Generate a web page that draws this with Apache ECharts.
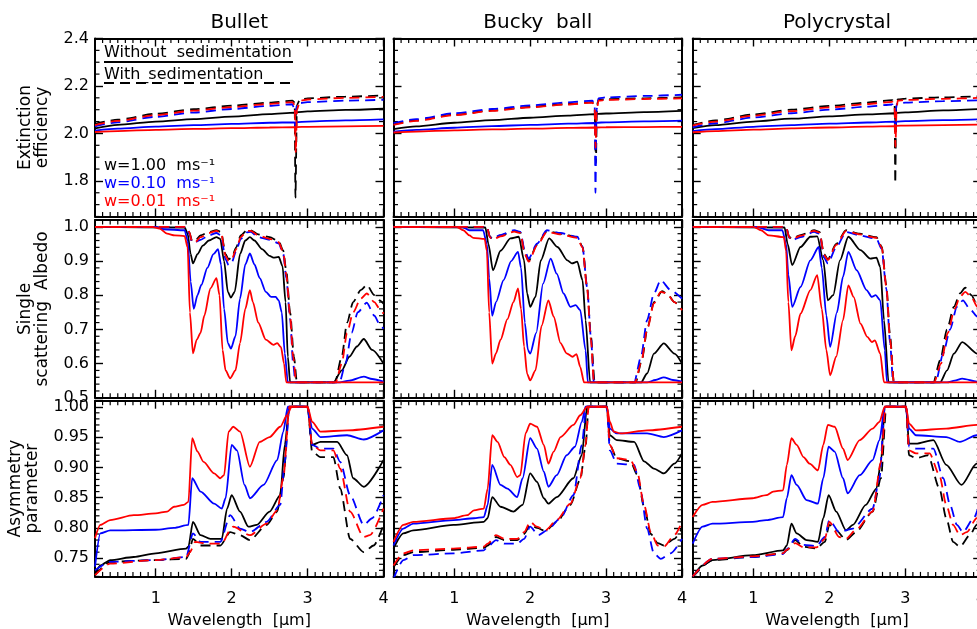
<!DOCTYPE html>
<html><head><meta charset="utf-8">
<script src="https://cdn.jsdelivr.net/npm/echarts@6/dist/echarts.min.js"></script>
<style>html,body{margin:0;padding:0;background:#fff}#c{width:977px;height:629px}</style>
</head><body><div id="c"></div>
<script>
// ---------- text ----------
const panelTitles = ['Bullet', 'Bucky  ball', 'Polycrystal'];
const rowNames = ['Extinction\nefficiency', 'Single\nscattering  Albedo', 'Asymmetry\nparameter'];
const xName = 'Wavelength  [\u03bcm]';
const xTickLabels = [1, 2, 3, 4];
const yTickLabels = [[1.8, 2.0, 2.2, 2.4], [0.5, 0.6, 0.7, 0.8, 0.9, 1.0], [0.75, 0.80, 0.85, 0.90, 0.95, 1.00]];
const yDecimals = [1, 1, 2];
const legendStyleTexts = ['Without  sedimentation', 'With_sedimentation'];
const legendSpeedTexts = ['w=1.00  ms\u207b\u00b9', 'w=0.10  ms\u207b\u00b9', 'w=0.01  ms\u207b\u00b9'];
const xRange = [0.2, 4.0];
const yRanges = [[1.65, 2.4], [0.5, 1.02], [0.72, 1.01]];

// ---------- Extinction efficiency ----------
const extBulletK  = [[0.2,2.021],[0.5,2.036],[1.0,2.05],[1.5,2.06],[2.0,2.071],[2.5,2.081],[2.83,2.088],[2.84,2.06],[2.85,2.089],[3.0,2.093],[3.5,2.099],[4.0,2.104]];
const extBulletKd = [[0.2,2.04],[0.5,2.058],[1.0,2.083],[1.5,2.102],[2.0,2.117],[2.5,2.13],[2.8,2.138],[2.83,2.13],[2.84,1.73],[2.86,2.12],[2.9,2.143],[3.0,2.148],[3.5,2.155],[4.0,2.16]];
const extBulletB  = [[0.2,2.012],[0.5,2.02],[1.0,2.029],[1.5,2.035],[2.0,2.04],[2.5,2.045],[2.83,2.047],[2.84,2.022],[2.85,2.048],[3.0,2.05],[3.5,2.055],[4.0,2.059]];
const extBulletBd = [[0.2,2.03],[0.5,2.047],[1.0,2.07],[1.5,2.088],[2.0,2.103],[2.5,2.116],[2.8,2.123],[2.84,2.08],[2.86,2.12],[2.9,2.128],[3.0,2.132],[3.5,2.138],[4.0,2.142]];
const extBulletR  = [[0.2,2.006],[0.5,2.01],[1.0,2.015],[1.5,2.019],[2.0,2.022],[2.5,2.025],[2.83,2.026],[2.84,2.005],[2.85,2.027],[3.0,2.028],[3.5,2.03],[4.0,2.032]];
const extBulletRd = [[0.2,2.035],[0.5,2.053],[1.0,2.077],[1.5,2.096],[2.0,2.111],[2.5,2.124],[2.8,2.132],[2.83,2.12],[2.845,1.92],[2.86,2.1],[2.9,2.138],[3.0,2.143],[3.5,2.15],[4.0,2.154]];

const extBuckyK  = [[0.2,2.018],[0.5,2.03],[1.0,2.045],[1.5,2.056],[2.0,2.066],[2.5,2.075],[2.85,2.081],[2.86,2.0],[2.87,2.082],[3.0,2.084],[3.5,2.09],[4.0,2.095]];
const extBuckyKd = [[0.2,2.038],[0.5,2.055],[1.0,2.079],[1.5,2.097],[2.0,2.112],[2.5,2.124],[2.82,2.132],[2.85,2.1],[2.866,1.875],[2.88,2.12],[2.9,2.14],[3.0,2.144],[3.5,2.148],[4.0,2.152]];
const extBuckyB  = [[0.2,2.008],[0.5,2.015],[1.0,2.024],[1.5,2.031],[2.0,2.036],[2.5,2.041],[2.85,2.044],[2.86,2.02],[2.87,2.045],[3.0,2.047],[3.5,2.051],[4.0,2.054]];
const extBuckyBd = [[0.2,2.043],[0.5,2.06],[1.0,2.085],[1.5,2.103],[2.0,2.118],[2.5,2.131],[2.82,2.138],[2.85,2.12],[2.86,1.75],[2.875,2.1],[2.9,2.148],[3.0,2.152],[3.5,2.158],[4.0,2.163]];
const extBuckyR  = [[0.2,2.004],[0.5,2.008],[1.0,2.013],[1.5,2.017],[2.0,2.02],[2.5,2.023],[2.85,2.025],[2.86,2.0],[2.87,2.025],[3.0,2.026],[3.5,2.027],[4.0,2.028]];
const extBuckyRd = [[0.2,2.036],[0.5,2.053],[1.0,2.077],[1.5,2.095],[2.0,2.11],[2.5,2.122],[2.82,2.13],[2.85,2.11],[2.862,1.94],[2.875,2.09],[2.9,2.138],[3.0,2.141],[3.5,2.145],[4.0,2.148]];

const extPolyK  = [[0.2,2.022],[0.5,2.035],[1.0,2.05],[1.5,2.062],[2.0,2.072],[2.5,2.08],[2.86,2.085],[2.87,2.05],[2.88,2.086],[3.0,2.089],[3.5,2.097],[4.0,2.103]];
const extPolyKd = [[0.2,2.036],[0.5,2.055],[1.0,2.08],[1.5,2.1],[2.0,2.116],[2.5,2.13],[2.83,2.14],[2.86,2.12],[2.868,1.79],[2.88,2.11],[2.9,2.143],[3.0,2.147],[3.5,2.152],[4.0,2.157]];
const extPolyB  = [[0.2,2.01],[0.5,2.018],[1.0,2.028],[1.5,2.035],[2.0,2.041],[2.5,2.046],[2.86,2.05],[2.87,2.025],[2.88,2.05],[3.0,2.052],[3.5,2.056],[4.0,2.06]];
const extPolyBd = [[0.2,2.026],[0.5,2.043],[1.0,2.067],[1.5,2.085],[2.0,2.1],[2.5,2.113],[2.83,2.122],[2.87,2.09],[2.89,2.125],[3.0,2.13],[3.5,2.136],[4.0,2.14]];
const extPolyR  = [[0.2,2.005],[0.5,2.01],[1.0,2.016],[1.5,2.021],[2.0,2.025],[2.5,2.029],[2.86,2.031],[2.87,2.005],[2.88,2.032],[3.0,2.033],[3.5,2.035],[4.0,2.037]];
const extPolyRd = [[0.2,2.033],[0.5,2.05],[1.0,2.075],[1.5,2.094],[2.0,2.11],[2.5,2.124],[2.83,2.133],[2.86,2.11],[2.87,1.944],[2.885,2.1],[2.9,2.138],[3.0,2.141],[3.5,2.146],[4.0,2.15]];

// ---------- Single scattering albedo ----------
const albBulletK  = [[0.2,1.0],[1.38,0.998],[1.42,0.98],[1.46,0.92],[1.49,0.893],[1.55,0.92],[1.62,0.945],[1.7,0.96],[1.8,0.97],[1.85,0.965],[1.9,0.9],[1.95,0.81],[1.99,0.793],[2.04,0.81],[2.11,0.92],[2.18,0.96],[2.24,0.97],[2.3,0.96],[2.4,0.935],[2.5,0.915],[2.55,0.91],[2.62,0.912],[2.67,0.885],[2.71,0.78],[2.74,0.62],[2.77,0.545],[3.34,0.545],[3.45,0.58],[3.55,0.62],[3.65,0.65],[3.74,0.672],[3.85,0.64],[4.0,0.6]];
const albBulletKd = [[0.2,1.0],[1.4,1.0],[1.44,0.985],[1.48,0.958],[1.52,0.96],[1.59,0.975],[1.7,0.985],[1.8,0.99],[1.86,0.985],[1.92,0.92],[1.96,0.905],[2.0,0.91],[2.06,0.94],[2.12,0.975],[2.2,0.99],[2.25,0.99],[2.35,0.978],[2.5,0.97],[2.62,0.958],[2.68,0.93],[2.72,0.87],[2.77,0.75],[2.82,0.62],[2.86,0.545],[3.36,0.545],[3.45,0.62],[3.52,0.72],[3.6,0.78],[3.7,0.815],[3.78,0.83],[3.88,0.8],[3.95,0.785],[4.0,0.775]];
const albBulletB  = [[0.2,1.0],[1.0,1.0],[1.1,0.993],[1.38,0.99],[1.42,0.96],[1.46,0.84],[1.5,0.76],[1.55,0.8],[1.6,0.83],[1.68,0.88],[1.76,0.92],[1.82,0.935],[1.86,0.89],[1.9,0.76],[1.95,0.66],[1.99,0.644],[2.05,0.68],[2.11,0.79],[2.18,0.89],[2.24,0.922],[2.3,0.89],[2.37,0.85],[2.45,0.81],[2.52,0.795],[2.58,0.795],[2.62,0.785],[2.66,0.75],[2.7,0.63],[2.74,0.545],[3.4,0.545],[3.55,0.55],[3.74,0.562],[3.85,0.555],[4.0,0.547]];
const albBulletBd = [[0.2,1.0],[1.4,1.0],[1.44,0.98],[1.48,0.955],[1.52,0.955],[1.59,0.962],[1.7,0.975],[1.8,0.982],[1.86,0.975],[1.92,0.905],[1.96,0.888],[2.0,0.895],[2.06,0.93],[2.12,0.965],[2.2,0.984],[2.25,0.985],[2.35,0.97],[2.5,0.962],[2.62,0.952],[2.68,0.92],[2.72,0.85],[2.77,0.73],[2.81,0.6],[2.84,0.545],[3.42,0.545],[3.5,0.6],[3.58,0.69],[3.66,0.75],[3.78,0.778],[3.88,0.74],[3.95,0.715],[4.0,0.702]];
const albBulletR  = [[0.2,1.0],[0.95,1.0],[1.05,0.995],[1.15,0.98],[1.25,0.975],[1.38,0.973],[1.42,0.94],[1.45,0.75],[1.49,0.63],[1.54,0.67],[1.59,0.69],[1.64,0.74],[1.72,0.82],[1.8,0.85],[1.84,0.8],[1.88,0.64],[1.92,0.58],[1.98,0.557],[2.05,0.58],[2.11,0.66],[2.18,0.76],[2.24,0.815],[2.28,0.78],[2.35,0.72],[2.45,0.67],[2.55,0.655],[2.6,0.66],[2.65,0.648],[2.69,0.6],[2.72,0.545],[4.0,0.545]];
const albBulletRd = [[0.2,1.0],[1.4,1.0],[1.44,0.985],[1.48,0.955],[1.52,0.955],[1.59,0.97],[1.7,0.982],[1.8,0.988],[1.86,0.983],[1.92,0.915],[1.96,0.9],[2.0,0.905],[2.06,0.935],[2.12,0.97],[2.2,0.988],[2.25,0.988],[2.35,0.975],[2.5,0.965],[2.62,0.955],[2.68,0.925],[2.72,0.86],[2.77,0.74],[2.81,0.62],[2.85,0.545],[3.37,0.545],[3.45,0.6],[3.52,0.69],[3.6,0.75],[3.7,0.79],[3.78,0.805],[3.88,0.78],[3.95,0.76],[4.0,0.746]];

const albBuckyK  = [[0.2,1.0],[1.41,0.998],[1.45,0.95],[1.51,0.873],[1.61,0.93],[1.74,0.966],[1.85,0.971],[1.92,0.902],[1.96,0.805],[2.0,0.766],[2.07,0.795],[2.14,0.902],[2.25,0.966],[2.36,0.941],[2.49,0.902],[2.55,0.893],[2.62,0.898],[2.69,0.844],[2.73,0.727],[2.79,0.545],[3.46,0.545],[3.54,0.571],[3.63,0.629],[3.76,0.659],[3.9,0.629],[4.0,0.6]];
const albBuckyKd = [[0.2,1.0],[1.43,1.0],[1.47,0.972],[1.5,0.965],[1.61,0.975],[1.79,0.988],[1.87,0.984],[1.93,0.922],[1.98,0.9],[2.09,0.948],[2.22,0.987],[2.4,0.98],[2.62,0.97],[2.69,0.942],[2.75,0.825],[2.8,0.68],[2.85,0.545],[3.39,0.545],[3.47,0.61],[3.55,0.71],[3.63,0.78],[3.74,0.812],[3.82,0.8],[3.9,0.78],[4.0,0.76]];
const albBuckyB  = [[0.2,1.0],[1.1,1.0],[1.2,0.99],[1.38,0.99],[1.43,0.95],[1.46,0.85],[1.5,0.74],[1.55,0.78],[1.65,0.844],[1.75,0.9],[1.84,0.927],[1.88,0.88],[1.93,0.72],[1.97,0.64],[2.0,0.629],[2.08,0.69],[2.17,0.834],[2.27,0.907],[2.35,0.863],[2.44,0.805],[2.53,0.766],[2.6,0.771],[2.66,0.756],[2.73,0.639],[2.76,0.545],[3.54,0.545],[3.65,0.552],[3.76,0.56],[3.88,0.552],[4.0,0.547]];
const albBuckyBd = [[0.2,1.0],[1.43,1.0],[1.47,0.97],[1.5,0.966],[1.61,0.976],[1.79,0.99],[1.87,0.985],[1.93,0.93],[1.98,0.907],[2.09,0.951],[2.22,0.99],[2.4,0.982],[2.62,0.971],[2.69,0.941],[2.75,0.824],[2.8,0.678],[2.84,0.545],[3.37,0.545],[3.46,0.62],[3.54,0.727],[3.63,0.805],[3.72,0.844],[3.85,0.815],[4.0,0.79]];
const albBuckyR  = [[0.2,1.0],[1.03,1.0],[1.12,0.99],[1.2,0.975],[1.25,0.968],[1.4,0.965],[1.43,0.93],[1.46,0.75],[1.5,0.6],[1.55,0.63],[1.61,0.67],[1.7,0.73],[1.78,0.78],[1.84,0.82],[1.88,0.76],[1.92,0.65],[1.96,0.57],[2.0,0.551],[2.07,0.58],[2.15,0.71],[2.24,0.785],[2.31,0.737],[2.4,0.66],[2.48,0.63],[2.56,0.62],[2.61,0.628],[2.66,0.59],[2.71,0.545],[4.0,0.545]];
const albBuckyRd = [[0.2,1.0],[1.43,1.0],[1.47,0.97],[1.5,0.962],[1.61,0.972],[1.79,0.986],[1.87,0.982],[1.93,0.92],[1.98,0.898],[2.09,0.945],[2.22,0.985],[2.4,0.978],[2.62,0.968],[2.69,0.94],[2.75,0.82],[2.8,0.67],[2.84,0.545],[3.38,0.545],[3.46,0.6],[3.54,0.698],[3.63,0.776],[3.72,0.81],[3.8,0.805],[3.9,0.78],[4.0,0.756]];

const albPolyK  = [[0.2,1.0],[1.41,0.998],[1.45,0.95],[1.51,0.888],[1.62,0.941],[1.75,0.971],[1.84,0.972],[1.92,0.902],[1.98,0.785],[2.05,0.8],[2.14,0.902],[2.25,0.971],[2.41,0.932],[2.54,0.907],[2.62,0.91],[2.67,0.883],[2.72,0.727],[2.78,0.545],[3.46,0.545],[3.55,0.58],[3.64,0.629],[3.75,0.663],[3.95,0.629],[4.0,0.615]];
const albPolyKd = [[0.2,1.0],[1.43,1.0],[1.47,0.972],[1.5,0.965],[1.62,0.976],[1.8,0.99],[1.87,0.985],[1.93,0.92],[1.98,0.905],[2.09,0.95],[2.22,0.99],[2.4,0.98],[2.62,0.97],[2.69,0.942],[2.75,0.83],[2.8,0.68],[2.85,0.545],[3.37,0.545],[3.46,0.61],[3.55,0.7],[3.64,0.766],[3.72,0.805],[3.79,0.822],[3.87,0.8],[3.95,0.77],[4.0,0.75]];
const albPolyB  = [[0.2,1.0],[1.05,1.0],[1.2,0.99],[1.38,0.99],[1.43,0.95],[1.46,0.86],[1.51,0.766],[1.62,0.824],[1.75,0.902],[1.86,0.941],[1.9,0.88],[1.96,0.741],[2.01,0.649],[2.1,0.75],[2.18,0.854],[2.25,0.927],[2.36,0.873],[2.49,0.815],[2.56,0.795],[2.61,0.8],[2.67,0.785],[2.73,0.639],[2.76,0.545],[3.55,0.545],[3.65,0.55],[3.75,0.556],[3.95,0.547],[4.0,0.546]];
const albPolyBd = [[0.2,1.0],[1.43,1.0],[1.47,0.968],[1.5,0.96],[1.62,0.97],[1.8,0.985],[1.87,0.98],[1.93,0.91],[1.98,0.893],[2.09,0.94],[2.22,0.985],[2.4,0.975],[2.62,0.965],[2.69,0.935],[2.75,0.82],[2.8,0.66],[2.84,0.545],[3.4,0.545],[3.5,0.63],[3.59,0.7],[3.68,0.766],[3.76,0.785],[3.85,0.76],[3.95,0.737],[4.0,0.72]];
const albPolyR  = [[0.2,1.0],[1.0,1.0],[1.1,0.99],[1.2,0.975],[1.4,0.97],[1.43,0.93],[1.46,0.78],[1.5,0.639],[1.55,0.68],[1.62,0.746],[1.75,0.815],[1.84,0.859],[1.9,0.76],[1.96,0.64],[2.01,0.566],[2.09,0.62],[2.18,0.727],[2.25,0.829],[2.32,0.795],[2.41,0.717],[2.5,0.678],[2.56,0.663],[2.6,0.668],[2.67,0.629],[2.72,0.545],[4.0,0.545]];
const albPolyRd = [[0.2,1.0],[1.43,1.0],[1.47,0.97],[1.5,0.963],[1.62,0.974],[1.8,0.988],[1.87,0.983],[1.93,0.918],[1.98,0.903],[2.09,0.947],[2.22,0.988],[2.4,0.978],[2.62,0.968],[2.69,0.94],[2.75,0.825],[2.8,0.67],[2.85,0.545],[3.38,0.545],[3.47,0.6],[3.56,0.69],[3.65,0.76],[3.72,0.795],[3.79,0.81],[3.87,0.795],[3.95,0.766],[4.0,0.75]];

// ---------- Asymmetry parameter ----------
const asyBulletK  = [[0.2,0.722],[0.27,0.738],[0.4,0.747],[0.71,0.752],[1.0,0.758],[1.4,0.766],[1.43,0.769],[1.49,0.81],[1.59,0.788],[1.72,0.782],[1.87,0.782],[1.94,0.832],[2.0,0.854],[2.11,0.827],[2.22,0.802],[2.33,0.805],[2.5,0.827],[2.64,0.854],[2.7,0.937],[2.76,1.0],[3.0,1.0],[3.06,0.937],[3.17,0.942],[3.39,0.942],[3.52,0.92],[3.6,0.882],[3.74,0.868],[4.0,0.912]];
const asyBulletKd = [[0.2,0.722],[0.4,0.744],[1.0,0.747],[1.4,0.749],[1.43,0.755],[1.49,0.782],[1.59,0.771],[1.85,0.771],[1.98,0.793],[2.11,0.788],[2.24,0.78],[2.46,0.805],[2.6,0.827],[2.68,0.882],[2.76,1.0],[3.0,1.0],[3.06,0.926],[3.17,0.917],[3.34,0.917],[3.43,0.865],[3.56,0.782],[3.74,0.76],[3.87,0.771],[4.0,0.805]];
const asyBulletB  = [[0.2,0.736],[0.27,0.791],[0.4,0.796],[1.0,0.797],[1.24,0.8],[1.43,0.805],[1.48,0.882],[1.59,0.86],[1.77,0.84],[1.87,0.832],[1.92,0.849],[2.0,0.937],[2.07,0.928],[2.17,0.871],[2.24,0.849],[2.42,0.871],[2.6,0.912],[2.68,0.959],[2.74,1.0],[3.0,1.0],[3.06,0.964],[3.17,0.95],[3.52,0.953],[3.74,0.946],[4.0,0.961]];
const asyBulletBd = [[0.2,0.73],[0.4,0.744],[1.0,0.747],[1.4,0.752],[1.49,0.791],[1.59,0.777],[1.85,0.777],[1.98,0.821],[2.11,0.799],[2.24,0.793],[2.46,0.81],[2.64,0.838],[2.7,0.909],[2.76,1.0],[3.0,1.0],[3.06,0.937],[3.17,0.931],[3.34,0.931],[3.43,0.909],[3.56,0.854],[3.74,0.805],[3.85,0.816],[4.0,0.854]];
const asyBulletR  = [[0.2,0.783],[0.27,0.805],[0.4,0.813],[0.71,0.821],[1.0,0.824],[1.15,0.827],[1.24,0.835],[1.37,0.838],[1.43,0.843],[1.48,0.948],[1.55,0.926],[1.63,0.909],[1.77,0.89],[1.85,0.882],[1.9,0.887],[1.96,0.959],[2.02,0.967],[2.11,0.959],[2.24,0.901],[2.37,0.942],[2.5,0.95],[2.64,0.967],[2.73,0.986],[2.79,1.0],[3.0,1.0],[3.06,0.975],[3.17,0.959],[3.52,0.961],[4.0,0.967]];
const asyBulletRd = [[0.2,0.722],[0.4,0.741],[1.0,0.747],[1.4,0.752],[1.45,0.76],[1.52,0.777],[1.68,0.774],[1.87,0.774],[1.98,0.796],[2.02,0.802],[2.24,0.788],[2.46,0.807],[2.6,0.829],[2.68,0.882],[2.76,1.0],[3.0,1.0],[3.06,0.937],[3.17,0.928],[3.34,0.928],[3.43,0.898],[3.56,0.827],[3.74,0.785],[3.82,0.788],[4.0,0.832]];

const asyBuckyK  = [[0.2,0.766],[0.33,0.791],[0.46,0.796],[0.99,0.805],[1.39,0.81],[1.44,0.816],[1.5,0.851],[1.61,0.835],[1.78,0.827],[1.9,0.838],[2.0,0.89],[2.09,0.876],[2.18,0.849],[2.24,0.84],[2.35,0.851],[2.57,0.882],[2.68,0.92],[2.75,1.0],[3.01,1.0],[3.05,0.953],[3.14,0.945],[3.37,0.942],[3.5,0.91],[3.63,0.898],[3.76,0.89],[3.9,0.906],[4.0,0.923]];
const asyBuckyKd = [[0.2,0.735],[0.33,0.755],[0.46,0.76],[0.99,0.764],[1.39,0.767],[1.44,0.771],[1.55,0.785],[1.66,0.78],[1.83,0.78],[1.92,0.79],[2.0,0.805],[2.09,0.8],[2.2,0.795],[2.35,0.81],[2.53,0.838],[2.66,0.88],[2.73,0.935],[2.77,1.0],[3.01,1.0],[3.05,0.937],[3.14,0.915],[3.32,0.91],[3.41,0.888],[3.5,0.835],[3.59,0.79],[3.68,0.775],[3.76,0.771],[3.9,0.782],[4.0,0.8]];
const asyBuckyB  = [[0.2,0.771],[0.33,0.799],[0.46,0.807],[0.99,0.813],[1.26,0.816],[1.39,0.818],[1.44,0.838],[1.5,0.904],[1.61,0.871],[1.7,0.865],[1.83,0.851],[1.9,0.882],[2.0,0.948],[2.09,0.931],[2.18,0.893],[2.24,0.868],[2.35,0.887],[2.48,0.92],[2.59,0.934],[2.68,0.975],[2.73,1.0],[3.01,1.0],[3.05,0.964],[3.14,0.956],[3.54,0.956],[3.76,0.95],[4.0,0.961]];
const asyBuckyBd = [[0.2,0.716],[0.33,0.747],[0.46,0.755],[0.99,0.758],[1.39,0.763],[1.44,0.769],[1.55,0.78],[1.66,0.774],[1.83,0.774],[1.92,0.782],[2.0,0.802],[2.11,0.788],[2.22,0.796],[2.4,0.816],[2.57,0.854],[2.68,0.937],[2.74,1.0],[3.01,1.0],[3.05,0.928],[3.14,0.906],[3.37,0.904],[3.45,0.865],[3.54,0.799],[3.63,0.758],[3.72,0.749],[3.85,0.758],[4.0,0.782]];
const asyBuckyR  = [[0.2,0.777],[0.33,0.805],[0.46,0.81],[0.99,0.816],[1.17,0.821],[1.26,0.829],[1.39,0.832],[1.44,0.865],[1.5,0.953],[1.57,0.942],[1.66,0.917],[1.74,0.904],[1.83,0.884],[1.87,0.887],[1.94,0.956],[2.0,0.972],[2.09,0.967],[2.18,0.937],[2.24,0.906],[2.31,0.926],[2.4,0.95],[2.57,0.97],[2.66,0.986],[2.75,1.0],[3.01,1.0],[3.05,0.975],[3.1,0.959],[3.19,0.956],[3.54,0.961],[4.0,0.967]];
const asyBuckyRd = [[0.2,0.738],[0.33,0.758],[0.46,0.763],[0.99,0.766],[1.39,0.769],[1.44,0.774],[1.55,0.788],[1.66,0.782],[1.83,0.782],[1.92,0.793],[2.0,0.81],[2.09,0.802],[2.2,0.796],[2.35,0.813],[2.53,0.84],[2.66,0.882],[2.73,0.937],[2.77,1.0],[3.01,1.0],[3.05,0.937],[3.14,0.915],[3.32,0.912],[3.41,0.893],[3.5,0.838],[3.59,0.793],[3.68,0.771],[3.76,0.769],[3.9,0.788],[4.0,0.81]];

const asyPolyK  = [[0.2,0.719],[0.33,0.738],[0.46,0.747],[0.99,0.755],[1.39,0.763],[1.44,0.771],[1.5,0.807],[1.57,0.791],[1.7,0.78],[1.85,0.777],[1.92,0.816],[1.99,0.854],[2.09,0.827],[2.22,0.796],[2.31,0.805],[2.48,0.838],[2.62,0.865],[2.68,0.909],[2.73,1.0],[3.01,1.0],[3.05,0.939],[3.14,0.939],[3.37,0.945],[3.54,0.904],[3.74,0.871],[3.94,0.906],[4.0,0.915]];
const asyPolyKd = [[0.2,0.719],[0.46,0.747],[0.99,0.752],[1.39,0.758],[1.44,0.763],[1.55,0.78],[1.66,0.769],[1.83,0.766],[1.94,0.777],[2.0,0.805],[2.09,0.796],[2.22,0.78],[2.35,0.793],[2.57,0.827],[2.68,0.882],[2.75,1.0],[3.01,1.0],[3.05,0.92],[3.14,0.915],[3.3,0.92],[3.45,0.865],[3.54,0.816],[3.63,0.777],[3.72,0.769],[3.85,0.788],[3.94,0.805],[4.0,0.82]];
const asyPolyB  = [[0.2,0.774],[0.33,0.802],[0.46,0.807],[0.99,0.81],[1.17,0.813],[1.39,0.818],[1.44,0.849],[1.5,0.887],[1.57,0.871],[1.7,0.846],[1.85,0.84],[1.92,0.882],[1.99,0.934],[2.07,0.926],[2.18,0.882],[2.24,0.857],[2.4,0.887],[2.57,0.912],[2.66,0.945],[2.73,1.0],[3.01,1.0],[3.05,0.964],[3.14,0.953],[3.54,0.95],[3.72,0.942],[3.94,0.953],[4.0,0.956]];
const asyPolyBd = [[0.2,0.72],[0.46,0.749],[0.99,0.752],[1.39,0.757],[1.44,0.765],[1.55,0.782],[1.66,0.772],[1.83,0.77],[1.94,0.785],[2.0,0.813],[2.13,0.793],[2.31,0.799],[2.57,0.832],[2.66,0.882],[2.73,1.0],[3.01,1.0],[3.05,0.934],[3.14,0.931],[3.37,0.931],[3.5,0.882],[3.59,0.838],[3.68,0.805],[3.76,0.793],[3.9,0.816],[4.0,0.85]];
const asyPolyR  = [[0.2,0.818],[0.33,0.838],[0.46,0.843],[0.99,0.849],[1.17,0.854],[1.26,0.86],[1.39,0.862],[1.44,0.904],[1.5,0.948],[1.57,0.937],[1.66,0.917],[1.74,0.906],[1.85,0.895],[1.92,0.937],[1.98,0.97],[2.07,0.967],[2.18,0.931],[2.24,0.912],[2.4,0.945],[2.57,0.964],[2.66,0.975],[2.73,1.0],[3.01,1.0],[3.05,0.972],[3.14,0.961],[3.54,0.964],[3.94,0.97],[4.0,0.97]];
const asyPolyRd = [[0.2,0.72],[0.46,0.749],[0.99,0.753],[1.39,0.758],[1.44,0.764],[1.55,0.775],[1.66,0.768],[1.83,0.768],[1.94,0.782],[2.0,0.81],[2.13,0.785],[2.22,0.782],[2.35,0.797],[2.57,0.827],[2.68,0.909],[2.74,1.0],[3.01,1.0],[3.05,0.928],[3.14,0.923],[3.32,0.923],[3.45,0.887],[3.54,0.838],[3.63,0.805],[3.72,0.788],[3.81,0.793],[3.94,0.816],[4.0,0.83]];

// panel table built from the named arrays: rows = quantity, cols = habit
const panels = [
  [ [extBulletK, extBulletKd, extBulletB, extBulletBd, extBulletR, extBulletRd],
    [extBuckyK, extBuckyKd, extBuckyB, extBuckyBd, extBuckyR, extBuckyRd],
    [extPolyK, extPolyKd, extPolyB, extPolyBd, extPolyR, extPolyRd] ],
  [ [albBulletK, albBulletKd, albBulletB, albBulletBd, albBulletR, albBulletRd],
    [albBuckyK, albBuckyKd, albBuckyB, albBuckyBd, albBuckyR, albBuckyRd],
    [albPolyK, albPolyKd, albPolyB, albPolyBd, albPolyR, albPolyRd] ],
  [ [asyBulletK, asyBulletKd, asyBulletB, asyBulletBd, asyBulletR, asyBulletRd],
    [asyBuckyK, asyBuckyKd, asyBuckyB, asyBuckyBd, asyBuckyR, asyBuckyRd],
    [asyPolyK, asyPolyKd, asyPolyB, asyPolyBd, asyPolyR, asyPolyRd] ]
];

// ---------- styling / layout ----------
const FONT = 'DejaVu Sans';
const BLACK = '#000000', BLUE = '#0000ff', RED = '#ff0000';
const DASH = [10, 6];
const lineStyles = [
  {color: BLACK, type: 'solid'}, {color: BLACK, type: DASH},
  {color: BLUE, type: 'solid'}, {color: BLUE, type: DASH},
  {color: RED, type: 'solid'}, {color: RED, type: DASH}
];
const colLeft = [95, 393.5, 692.7];
const colWidth = 288.5;
const rowTop = [38.5, 220, 400.7];
const rowHeight = [178, 177.8, 175.7];
const yMinorStep = [0.05, 0.02, 0.01];
const xMinorStep = 0.1;
const yNameGap = [44, 44, 54];
const MAJOR_LEN = 8, MINOR_LEN = 4.5;
const TICK_COLOR = BLACK;

function minorValues(min, max, step, majors) {
  const out = [];
  const n0 = Math.ceil(min / step - 1e-6), n1 = Math.floor(max / step + 1e-6);
  for (let n = n0; n <= n1; n++) {
    const v = +(n * step).toFixed(4);
    if (!majors.some(m => Math.abs(m - v) < 1e-6)) out.push(v);
  }
  return out;
}

const grids = [], xAxes = [], yAxes = [], series = [], tickPlan = [];
const axisLineOn = {show: true, onZero: false, lineStyle: {color: BLACK, width: 2}};
const majorTick = vals => ({show: true, inside: true, length: MAJOR_LEN, customValues: vals, lineStyle: {color: TICK_COLOR, width: 1.4}});

for (let r = 0; r < 3; r++) {
  for (let c = 0; c < 3; c++) {
    const g = grids.length;
    grids.push({left: colLeft[c], top: rowTop[r], width: colWidth, height: rowHeight[r],
      containLabel: false, outerBoundsMode: 'none'});
    const xMajors = xTickLabels.slice();
    const xMinors = minorValues(xRange[0], xRange[1], xMinorStep, xMajors);
    const yMajors = yTickLabels[r].slice();
    const yMinors = minorValues(yRanges[r][0], yRanges[r][1], yMinorStep[r], yMajors);
    tickPlan.push({g, r, xMinors, yMinors});
    const xBase = {type: 'value', gridIndex: g, min: xRange[0], max: xRange[1], splitLine: {show: false}};
    const yBase = {type: 'value', gridIndex: g, min: yRanges[r][0], max: yRanges[r][1], splitLine: {show: false}};
    const xi = xAxes.length, yi = yAxes.length;
    xAxes.push(Object.assign({}, xBase, {
      position: 'bottom', axisLine: axisLineOn, axisTick: majorTick(xMajors),
      axisLabel: {show: r === 2, customValues: xMajors, color: BLACK, fontSize: 16, fontFamily: FONT, margin: 14},
      name: r === 2 ? xName : '', nameLocation: 'middle', nameGap: 36,
      nameTextStyle: {color: BLACK, fontSize: 16, fontFamily: FONT}
    }));
    xAxes.push(Object.assign({}, xBase, {position: 'top', axisLine: axisLineOn, axisTick: majorTick(xMajors),
      axisLabel: {show: false, customValues: xMajors}}));
    yAxes.push(Object.assign({}, yBase, {
      position: 'left', axisLine: axisLineOn, axisTick: majorTick(yMajors),
      axisLabel: {show: c === 0, customValues: yMajors, color: BLACK, fontSize: 16, fontFamily: FONT, margin: 6,
        formatter: v => (+v).toFixed(yDecimals[r])},
      name: c === 0 ? rowNames[r] : '', nameLocation: 'middle', nameRotate: 90, nameGap: yNameGap[r],
      nameTextStyle: {color: BLACK, fontSize: 17, fontFamily: FONT, lineHeight: 17}
    }));
    yAxes.push(Object.assign({}, yBase, {position: 'right', axisLine: axisLineOn, axisTick: majorTick(yMajors),
      axisLabel: {show: false, customValues: yMajors}}));

    panels[r][c].forEach((data, k) => {
      series.push({
        type: 'line', xAxisIndex: xi, yAxisIndex: yi, data: data,
        showSymbol: false, symbol: 'none', smooth: 0.25, smoothMonotone: 'x', clip: true,
        lineStyle: {color: lineStyles[k].color, type: lineStyles[k].type, width: 1.8},
        silent: true, animation: false, z: 2 + k
      });
    });
  }
}

// titles, in-panel legend (text + line samples)
const graphic = [];
panelTitles.forEach((t, c) => {
  graphic.push({type: 'text', x: colLeft[c] + colWidth / 2, y: 23,
    style: {text: t, fill: BLACK, fontSize: 20, fontFamily: FONT, align: 'center', verticalAlign: 'middle'}});
});
graphic.push({type: 'text', x: 104, y: 53, style: {text: legendStyleTexts[0], fill: BLACK, fontSize: 16, fontFamily: FONT, align: 'left', verticalAlign: 'middle'}});
graphic.push({type: 'line', shape: {x1: 104, y1: 62, x2: 293, y2: 62}, style: {stroke: BLACK, lineWidth: 2}});
graphic.push({type: 'text', x: 104, y: 75, style: {text: legendStyleTexts[1], fill: BLACK, fontSize: 16, fontFamily: FONT, align: 'left', verticalAlign: 'middle'}});
graphic.push({type: 'line', shape: {x1: 104, y1: 83, x2: 293, y2: 83}, style: {stroke: BLACK, lineWidth: 2, lineDash: DASH}});
const speedColors = [BLACK, BLUE, RED];
legendSpeedTexts.forEach((t, i) => {
  graphic.push({type: 'text', x: 104, y: 166 + i * 18,
    style: {text: t, fill: speedColors[i], fontSize: 16, fontFamily: FONT, align: 'left', verticalAlign: 'middle'}});
});

const chart = echarts.init(document.getElementById('c'), null, {renderer: 'canvas'});
chart.setOption({
  animation: false,
  backgroundColor: '#ffffff',
  textStyle: {fontFamily: FONT},
  grid: grids, xAxis: xAxes, yAxis: yAxes, series: series
});

// minor inward ticks on all four sides, positioned through each grid's own scales
tickPlan.forEach(p => {
  const yr = yRanges[p.r];
  const toPx = (x, y) => chart.convertToPixel({gridIndex: p.g}, [x, y]);
  const top = toPx(xRange[0], yr[1])[1], bottom = toPx(xRange[0], yr[0])[1];
  const left = toPx(xRange[0], yr[0])[0], right = toPx(xRange[1], yr[0])[0];
  p.xMinors.forEach(v => {
    const x = toPx(v, yr[0])[0];
    graphic.push({type: 'line', silent: true, shape: {x1: x, y1: bottom, x2: x, y2: bottom - MINOR_LEN}, style: {stroke: TICK_COLOR, lineWidth: 1.2}});
    graphic.push({type: 'line', silent: true, shape: {x1: x, y1: top, x2: x, y2: top + MINOR_LEN}, style: {stroke: TICK_COLOR, lineWidth: 1.2}});
  });
  p.yMinors.forEach(v => {
    const y = toPx(xRange[0], v)[1];
    graphic.push({type: 'line', silent: true, shape: {x1: left, y1: y, x2: left + MINOR_LEN, y2: y}, style: {stroke: TICK_COLOR, lineWidth: 1.2}});
    graphic.push({type: 'line', silent: true, shape: {x1: right, y1: y, x2: right - MINOR_LEN, y2: y}, style: {stroke: TICK_COLOR, lineWidth: 1.2}});
  });
});

chart.setOption({graphic: graphic});
</script></body></html>
